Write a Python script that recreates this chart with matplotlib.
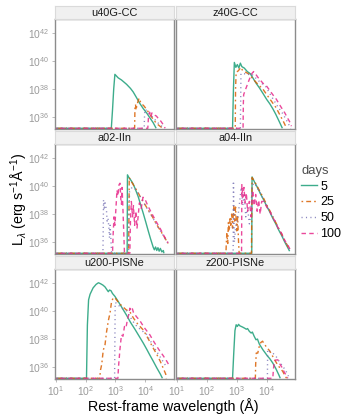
import numpy as np
import matplotlib
matplotlib.use("Agg")
import matplotlib.pyplot as plt
from matplotlib.lines import Line2D

plt.rcParams['font.family'] = ['Liberation Sans', 'DejaVu Sans']
plt.rcParams['mathtext.fontset'] = 'custom'
plt.rcParams['mathtext.rm'] = 'Liberation Sans'
plt.rcParams['mathtext.it'] = 'Liberation Sans:italic'
plt.rcParams['mathtext.bf'] = 'Liberation Sans:bold'

# ---------------- data (log10 wavelength [A], log10 L_lambda) ----------------
panels = ["u40G-CC", "z40G-CC", "a02-IIn", "a04-IIn", "u200-PISNe", "z200-PISNe"]
days = [5, 25, 50, 100]
F = 35.2  # floor value of the spectra

u40_wl = {
    5:   [0.9, 2.86, 2.90, 2.94, 2.98, 3.09, 3.20, 3.37, 3.50, 3.59, 3.70, 3.82, 3.93, 4.04, 4.15, 4.26, 4.36],
    25:  [0.9, 3.64, 3.65, 3.67, 3.69, 3.71, 3.75, 3.79, 3.85, 3.95, 4.04, 4.15, 4.26, 4.37, 4.48, 4.58],
    50:  [0.9, 3.96, 3.97, 3.99, 4.05, 4.15, 4.26, 4.37, 4.46, 4.54, 4.62],
    100: [0.9, 4.08, 4.10, 4.14, 4.18, 4.22, 4.30, 4.37, 4.45, 4.52, 4.59, 4.66],
}
u40_L = {
    5:   [F, F, 36.5, 38.0, 39.05, 38.8, 38.65, 38.34, 38.05, 37.8, 37.4, 36.95, 36.6, 36.3, 35.95, 35.6, F],
    25:  [F, F, 36.6, 36.9, 36.5, 36.8, 37.1, 37.35, 37.0, 36.8, 36.55, 36.2, 35.84, 35.55, 35.36, F],
    50:  [F, F, 36.0, 36.55, 36.45, 36.2, 35.95, 35.7, 35.5, 35.36, F],
    100: [F, F, 35.9, 36.35, 36.0, 36.3, 36.15, 36.07, 35.85, 35.7, 35.48, F],
}

z40_wl = {
    5:   [0.9, 2.86, 2.89, 2.92, 2.97, 3.02, 3.07, 3.12, 3.17, 3.25, 3.35, 3.45, 3.55, 3.65, 3.75, 3.87, 4.00, 4.10, 4.20, 4.30, 4.40, 4.52],
    25:  [0.9, 2.95, 2.96, 2.98, 3.05, 3.14, 3.20, 3.30, 3.42, 3.55, 3.70, 3.87, 4.00, 4.15, 4.31, 4.45, 4.55, 4.64, 4.66],
    50:  [0.9, 3.12, 3.13, 3.14, 3.25, 3.35, 3.45, 3.53, 3.65, 3.80, 3.96, 4.15, 4.35, 4.53, 4.65, 4.76, 4.80],
    100: [0.9, 3.21, 3.22, 3.23, 3.28, 3.35, 3.42, 3.50, 3.56, 3.62, 3.70, 3.80, 3.90, 3.98, 4.10, 4.20, 4.31, 4.45, 4.60, 4.70, 4.78, 4.82],
}
z40_L = {
    5:   [F, F, 38.0, 39.9, 39.55, 39.75, 39.5, 39.85, 39.6, 39.5, 39.25, 39.1, 38.75, 38.4, 38.1, 37.7, 37.25, 36.95, 36.6, 36.2, 35.75, F],
    25:  [F, F, 38.0, 39.2, 39.3, 39.55, 39.3, 39.2, 39.05, 38.7, 38.35, 38.0, 37.6, 37.15, 36.67, 36.1, 35.7, 35.3, F],
    50:  [F, F, 37.0, 39.1, 39.1, 39.0, 39.1, 39.0, 38.75, 38.45, 38.2, 37.5, 36.8, 36.25, 35.8, 35.36, F],
    100: [F, F, 37.0, 37.6, 37.9, 38.3, 38.7, 39.1, 39.25, 39.1, 38.85, 38.6, 38.35, 38.25, 37.9, 37.6, 37.3, 36.8, 36.3, 35.9, 35.6, 35.35],
}

a02_wl = {
    5:   [0.9, 3.39, 3.395, 3.40, 3.45, 3.52, 3.59, 3.66, 3.76, 3.85, 3.93, 4.01, 4.09, 4.17, 4.26, 4.30, 4.34, 4.38, 4.42, 4.46, 4.50, 4.55, 4.60, 4.62],
    25:  [0.9, 3.44, 3.45, 3.46, 3.55, 3.65, 3.75, 3.85, 3.95, 4.05, 4.15, 4.25, 4.35, 4.45, 4.55, 4.65, 4.76],
    50:  [0.9, 2.58, 2.59, 2.60, 2.62, 2.65, 2.68, 2.70, 2.72, 2.75, 2.78, 2.80, 2.82, 2.84, 2.86, 2.87,
          3.44, 3.45, 3.47, 3.55, 3.65, 3.75, 3.85, 4.00, 4.20, 4.40, 4.60, 4.74],
    100: [0.9, 2.90, 2.92, 2.95, 2.98, 3.02, 3.05, 3.08, 3.12, 3.15, 3.18, 3.20, 3.22, 3.25, 3.28, 3.30,
          3.48, 3.50, 3.53, 3.57, 3.60, 3.64, 3.68, 3.72, 3.76, 3.80, 3.86, 3.92, 4.00, 4.08, 4.20, 4.35, 4.50, 4.62, 4.76],
}
a02_L = {
    5:   [F, F, 38.0, 40.8, 40.6, 40.4, 40.15, 39.8, 39.24, 38.6, 38.04, 37.45, 36.84, 36.25, 35.64, 35.45, 35.65, 35.4, 35.6, 35.35, 35.55, 35.3, 35.4, F],
    25:  [F, F, 38.0, 40.6, 40.25, 39.9, 39.55, 39.15, 38.8, 38.45, 38.1, 37.75, 37.35, 37.0, 36.65, 36.3, 35.9],
    50:  [F, F, 37.0, 39.0, 38.3, 38.8, 38.5, 38.2, 37.5, 37.7, 37.0, 36.3, 37.2, 36.5, 35.6, F,
          F, 38.0, 39.6, 39.9, 39.8, 39.5, 39.15, 38.6, 37.9, 37.15, 36.45, 35.95],
    100: [F, F, 36.5, 37.8, 37.2, 38.6, 39.7, 39.3, 40.1, 40.2, 39.0, 38.7, 39.9, 38.3, 36.5, F,
          F, 37.5, 38.9, 37.8, 38.6, 37.2, 38.2, 37.0, 37.9, 38.8, 38.4, 39.2, 39.0, 38.6, 38.1, 37.5, 36.95, 36.45, 35.95],
}

a04_wl = {
    5:   [0.9, 3.50, 3.505, 3.51, 3.60, 3.70, 3.80, 3.90, 4.00, 4.10, 4.20, 4.30, 4.40, 4.50, 4.60, 4.70, 4.76],
    25:  [0.9, 2.64, 2.65, 2.67, 2.70, 2.72, 2.75, 2.78, 2.80, 2.83, 2.86, 2.90, 2.93, 2.96, 3.00, 3.03, 3.06, 3.08,
          3.49, 3.50, 3.51, 3.60, 3.70, 3.80, 3.90, 4.00, 4.10, 4.20, 4.30, 4.40, 4.50, 4.60, 4.70, 4.76],
    50:  [0.9, 2.88, 2.89, 2.92, 2.96, 3.05, 3.15, 3.20, 3.25, 3.30, 3.36, 3.42, 3.47, 3.50, 3.53, 3.60, 3.70,
          3.80, 3.90, 4.00, 4.10, 4.20, 4.30, 4.40, 4.50, 4.60, 4.70, 4.77],
    100: [0.9, 3.16, 3.17, 3.20, 3.24, 3.28, 3.32, 3.36, 3.42, 3.48, 3.53, 3.58, 3.63, 3.68, 3.73, 3.78, 3.83,
          3.90, 4.00, 4.10, 4.20, 4.30, 4.40, 4.50, 4.60, 4.70, 4.77],
}
a04_L = {
    5:   [F, F, 38.5, 40.65, 40.25, 39.85, 39.4, 39.0, 38.55, 38.15, 37.7, 37.3, 36.85, 36.45, 36.0, 35.6, 35.35],
    25:  [F, F, 35.8, 36.6, 35.9, 37.4, 36.8, 37.8, 37.2, 38.0, 37.0, 38.6, 37.5, 38.5, 36.8, 37.8, 36.0, F,
          F, 38.0, 40.6, 40.3, 39.9, 39.5, 39.1, 38.65, 38.25, 37.8, 37.4, 36.95, 36.55, 36.1, 35.7, 35.45],
    50:  [F, F, 40.35, 36.0, 37.0, 38.0, 39.9, 38.6, 39.5, 37.8, 38.5, 37.3, 38.0, 39.5, 40.1, 40.2, 39.8,
          39.45, 39.0, 38.6, 38.2, 37.8, 37.35, 36.95, 36.5, 36.1, 35.7, 35.4],
    100: [F, F, 40.1, 39.2, 39.9, 38.8, 39.5, 38.2, 38.9, 37.8, 39.7, 38.6, 39.4, 38.2, 39.0, 38.0, 38.9,
          38.9, 38.5, 38.2, 37.75, 37.4, 36.9, 36.6, 36.1, 35.8, 35.5],
}

u200_wl = {
    5:   [0.9, 2.03, 2.06, 2.10, 2.15, 2.25, 2.35, 2.43, 2.50, 2.58, 2.65, 2.72, 2.76, 2.80, 2.85, 2.90, 2.98, 3.10,
          3.20, 3.37, 3.50, 3.65, 3.82, 3.93, 4.05, 4.15, 4.26, 4.38, 4.50, 4.57],
    25:  [0.9, 2.47, 2.50, 2.54, 2.59, 2.65, 2.70, 2.76, 2.82, 2.87, 2.93, 2.98, 3.05, 3.15, 3.25, 3.35, 3.48, 3.60,
          3.75, 3.93, 4.10, 4.25, 4.37, 4.50, 4.60, 4.68, 4.70],
    50:  [0.9, 2.97, 2.98, 2.99, 3.05, 3.15, 3.25, 3.37, 3.50, 3.65, 3.80, 4.04, 4.20, 4.35, 4.50, 4.65, 4.72],
    100: [0.9, 3.08, 3.10, 3.15, 3.20, 3.25, 3.30, 3.35, 3.40, 3.45, 3.48, 3.52, 3.56, 3.60, 3.70, 3.82, 3.95, 4.15,
          4.30, 4.45, 4.60, 4.72, 4.80],
}
u200_L = {
    5:   [F, F, 39.0, 40.8, 41.2, 41.65, 41.9, 42.02, 41.95, 41.85, 41.72, 41.5, 41.38, 41.5, 41.45, 41.25, 41.05, 40.65,
          40.3, 39.7, 39.2, 38.7, 38.1, 37.71, 37.25, 36.85, 36.43, 35.95, 35.5, F],
    25:  [F, F, 35.8, 36.2, 37.2, 37.6, 38.5, 39.3, 39.9, 40.7, 40.95, 40.95, 40.75, 40.5, 40.3, 40.1, 39.95, 39.5,
          39.05, 38.65, 38.0, 37.4, 36.95, 36.4, 35.9, 35.5, F],
    50:  [F, F, 38.0, 40.6, 40.55, 40.3, 40.15, 40.0, 39.55, 39.05, 38.75, 38.33, 37.75, 37.2, 36.7, 36.2, 35.95],
    100: [F, F, 36.0, 37.3, 38.3, 38.2, 38.9, 38.8, 39.4, 39.8, 40.2, 40.05, 40.2, 39.9, 39.6, 39.3, 38.85, 38.3,
          37.75, 37.25, 36.8, 36.4, 36.1],
}

z200_wl = {
    5:   [0.9, 2.86, 2.90, 2.94, 2.98, 3.02, 3.06, 3.10, 3.15, 3.20, 3.26, 3.32, 3.36, 3.42, 3.48, 3.52, 3.58, 3.64,
          3.69, 3.75, 3.87, 4.02, 4.10, 4.20, 4.30, 4.40, 4.45],
    25:  [0.9, 3.62, 3.63, 3.65, 3.70, 3.74, 3.80, 3.86, 3.90, 4.00, 4.10, 4.24, 4.35, 4.45, 4.53, 4.60, 4.66],
    50:  [0.9, 4.02, 4.025, 4.03, 4.10, 4.20, 4.31, 4.40, 4.50, 4.60, 4.68, 4.72],
    100: [0.9, 4.20, 4.22, 4.25, 4.30, 4.37, 4.41, 4.50, 4.58, 4.65, 4.70],
}
z200_L = {
    5:   [F, F, 37.0, 38.6, 39.02, 38.9, 39.05, 38.95, 38.9, 38.85, 38.78, 38.7, 38.75, 38.55, 38.43, 38.5, 38.2, 37.95,
          38.0, 37.65, 37.24, 36.8, 36.6, 36.29, 35.9, 35.45, F],
    25:  [F, F, 36.2, 37.0, 37.0, 37.4, 37.75, 37.85, 37.7, 37.4, 37.15, 36.6, 36.2, 35.9, 35.7, 35.4, F],
    50:  [F, F, 36.2, 37.24, 37.1, 37.0, 36.76, 36.45, 36.15, 35.85, 35.55, 35.35],
    100: [F, F, 35.8, 36.4, 36.5, 36.52, 36.3, 36.0, 35.65, 35.4, F],
}

panel_wl = [u40_wl, z40_wl, a02_wl, a04_wl, u200_wl, z200_wl]
panel_L = [u40_L, z40_L, a02_L, a04_L, u200_L, z200_L]

x_ticks = [1, 2, 3, 4]
y_ticks = [36, 38, 40, 42]

# ---------------- style ----------------
colors = {5: "#1B9E77", 25: "#D95F02", 50: "#7570B3", 100: "#E7298A"}
dashes = {5: None, 25: (1.2, 2.2, 3.5, 2.2), 50: (0.8, 2.4), 100: (3.2, 2.4)}
LW = 1.0
ALPHA = 0.85

W, H = 350, 420
fig = plt.figure(figsize=(W / 100, H / 100), dpi=100)

col_left = [54.5, 175.5]
col_right = [173.5, 295.0]
row_top = [19, 144, 269]
row_bot = [129, 254, 379]
strip_h = 13

def fig_rect(x0, y0, x1, y1):
    return [x0 / W, 1 - y1 / H, (x1 - x0) / W, (y1 - y0) / H]

for i, name in enumerate(panels):
    r, c = divmod(i, 2)
    ax = fig.add_axes(fig_rect(col_left[c], row_top[r], col_right[c], row_bot[r]))
    for d in days:
        x = 10 ** np.array(panel_wl[i][d])
        y = 10 ** np.array(panel_L[i][d])
        ln, = ax.plot(x, y, color=colors[d], lw=LW, alpha=ALPHA, solid_capstyle='butt')
        if dashes[d] is not None:
            ln.set_dashes(dashes[d])
    ax.set_xscale('log')
    ax.set_yscale('log')
    ax.set_xlim(10 ** 0.96, 10 ** 4.94)
    ax.set_ylim(10 ** 35.15, 10 ** 43.0)
    ax.set_xticks([10.0 ** t for t in x_ticks])
    ax.set_yticks([10.0 ** t for t in y_ticks])
    ax.minorticks_off()
    ax.set_xticklabels([r'$10^{%d}$' % t for t in x_ticks])
    ax.set_yticklabels([r'$10^{%d}$' % t for t in y_ticks])
    ax.tick_params(axis='both', colors='#b0b0b0', labelcolor='#9a9a9a', labelsize=7.4,
                   length=2.5, width=0.6, pad=1.5)
    if c == 1:
        ax.tick_params(axis='y', left=False, labelleft=False)
    if r < 2:
        ax.tick_params(axis='x', bottom=False, labelbottom=False)
    for s in ax.spines.values():
        s.set_color('#8c8c8c')
        s.set_linewidth(1.0)
    # strip
    sax = fig.add_axes(fig_rect(col_left[c], row_top[r] - strip_h, col_right[c], row_top[r]))
    sax.set_facecolor('#f0f0f0')
    sax.set_xticks([])
    sax.set_yticks([])
    for s in sax.spines.values():
        s.set_color('#dadada')
        s.set_linewidth(0.8)
    sax.text(0.5, 0.45, name, ha='center', va='center', fontsize=7.9, color='#1a1a1a',
             transform=sax.transAxes)

# axis titles
fig.text(173 / W, 1 - 406 / H, 'Rest-frame wavelength (Å)', ha='center', va='center', fontsize=10.3)
fig.text(19 / W, 1 - 199 / H, r'L$_{\lambda}$ (erg s$^{-1}$Å$^{-1}$)', ha='center', va='center',
         rotation=90, fontsize=10.3)

# legend
handles = []
for d in days:
    h = Line2D([0], [0], color=colors[d], lw=LW, alpha=ALPHA)
    if dashes[d] is not None:
        h.set_dashes(dashes[d])
    handles.append(h)
leg = fig.legend(handles, [str(d) for d in days], title='days', loc='upper left',
                 bbox_to_anchor=(301 / W, 1 - 165 / H), frameon=False, fontsize=9,
                 title_fontsize=9.4, handlelength=1.25, handletextpad=0.3,
                 labelspacing=0.3, borderpad=0.0, borderaxespad=0.0)
leg._legend_box.align = 'left'
leg.get_title().set_color('#4d4d4d')

fig.savefig('out.png', dpi=100)
